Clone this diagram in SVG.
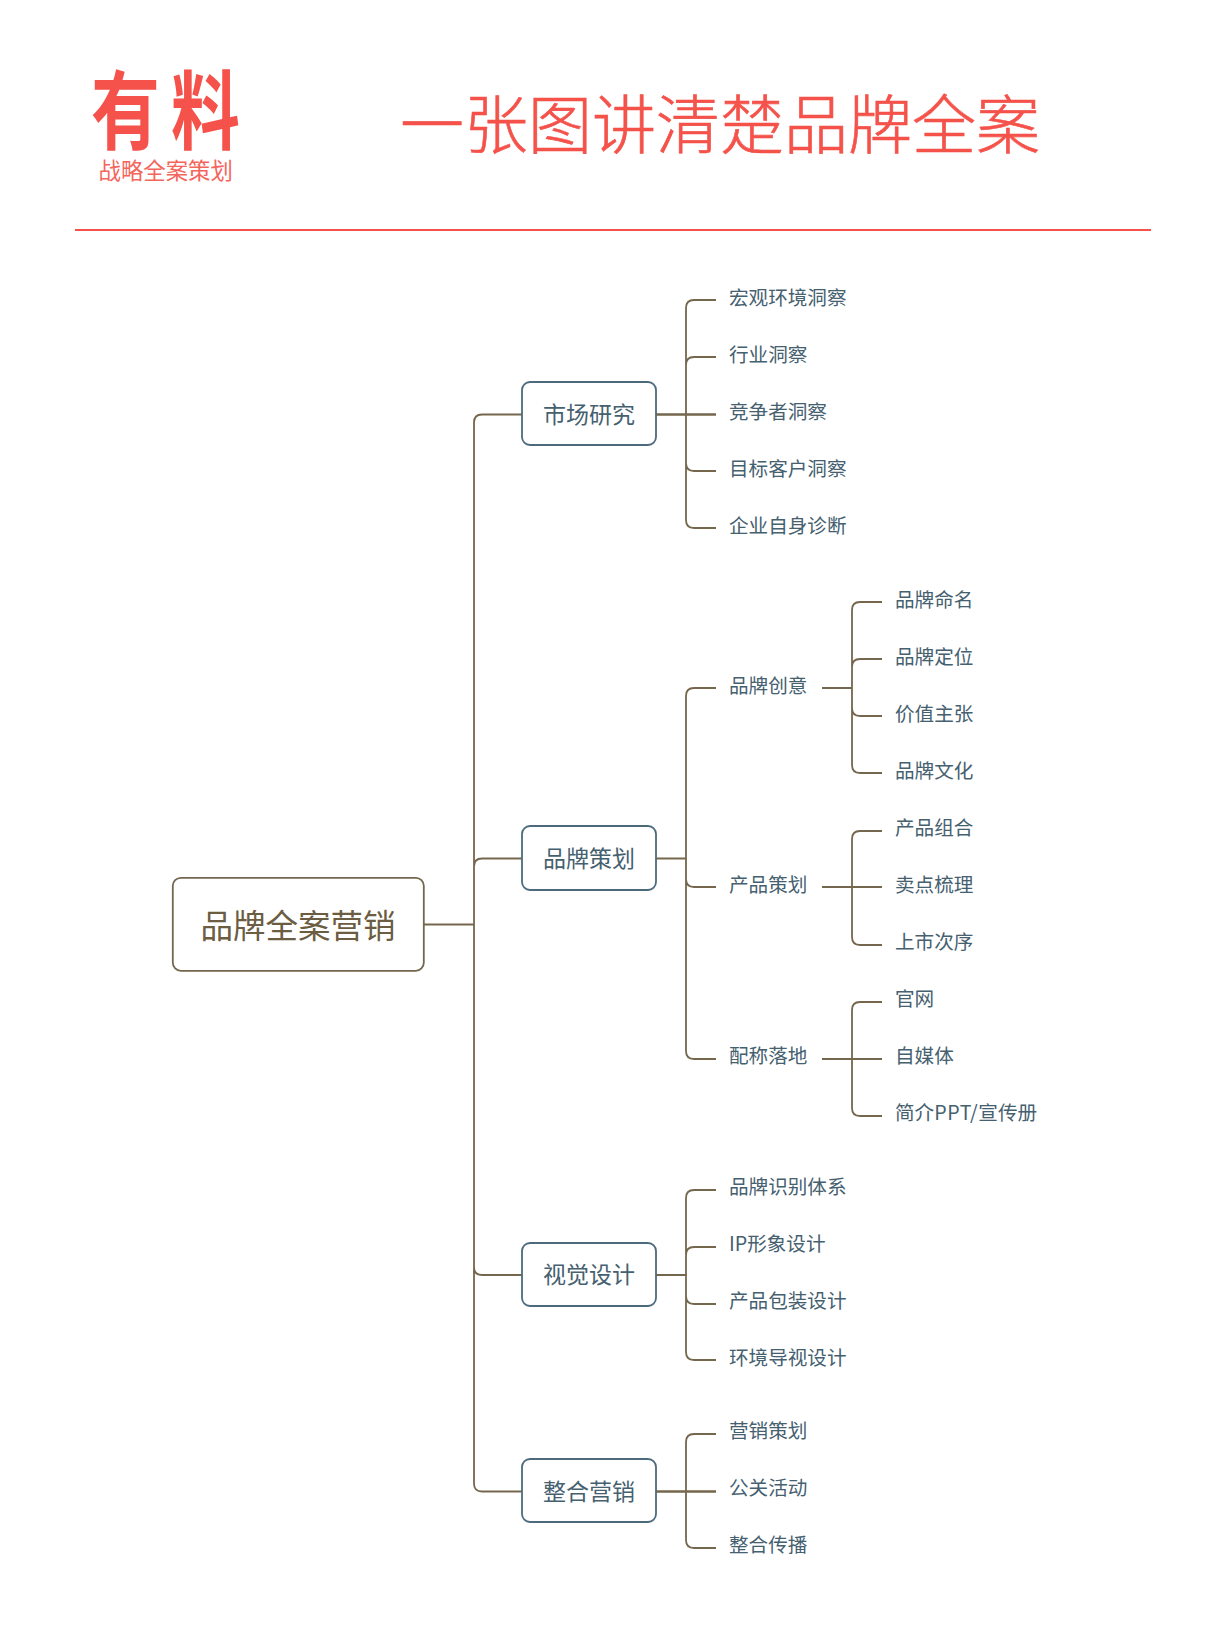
<svg xmlns="http://www.w3.org/2000/svg" width="1224" height="1632" viewBox="0 0 1224 1632">
<style>
text{font-family:"Noto Sans CJK SC","Noto Sans",sans-serif}
.c{fill:none;stroke:#75674d;stroke-width:1.8}
.box{fill:#fff;stroke:#4d6a7c;stroke-width:1.8}
.root{fill:#fff;stroke:#75674d;stroke-width:1.8}
.l0{font-size:32.5px;fill:#6b5c42;text-anchor:middle}
.l1{font-size:23px;fill:#45606f;text-anchor:middle}
.t{font-size:19.6px;fill:#45606f}
.red{fill:#f4524a}
</style>
<rect width="1224" height="1632" fill="#fff"/>
<g id="logo">
<text class="red" font-size="86" font-weight="700" transform="translate(91,143) scale(.8,1)">有</text>
<text class="red" font-size="86" font-weight="700" transform="translate(171,143) scale(.8,1)">料</text>
<text font-size="22.4" fill="#f4655c" x="98.5" y="179">战略全案策划</text>
</g>
<g id="title"><text class="red" font-size="64" font-weight="300" stroke="#f4524a" stroke-width=".6" x="400" y="148">一张图讲清楚品牌全案</text></g>
<line id="divider" x1="75" y1="230" x2="1151" y2="230" stroke="#f4524a" stroke-width="1.8"/>
<g id="connectors">
<path class="c" d="M424 924.500H474M482 414.500Q474 414.500 474 422.500V1483.500Q474 1491.500 482 1491.500H522M482 414.500H522M522 858.500H482Q474 858.500 474 866.500M474 1267Q474 1275 482 1275H522"/>
<path class="c" d="M716 300H694Q686 300 686 308V520Q686 528 694 528H716M716 357H694Q686 357 686 365M686 463Q686 471 694 471H716M656 414.500H716"/>
<path class="c" d="M656 414.500H716"/>
<path class="c" d="M656 858.500H686M716 688H694Q686 688 686 696V1051Q686 1059 694 1059H716M686 879Q686 887 694 887H716"/>
<path class="c" d="M822 688H852M882 602H860Q852 602 852 610V765Q852 773 860 773H882M882 659H860Q852 659 852 667M852 708Q852 716 860 716H882"/>
<path class="c" d="M882 831H860Q852 831 852 839V937Q852 945 860 945H882M822 887H882"/>
<path class="c" d="M822 887H882"/>
<path class="c" d="M882 1002H860Q852 1002 852 1010V1108Q852 1116 860 1116H882M822 1059H882"/>
<path class="c" d="M822 1059H882"/>
<path class="c" d="M656 1275H686M716 1190H694Q686 1190 686 1198V1352Q686 1360 694 1360H716M716 1247H694Q686 1247 686 1255M686 1296Q686 1304 694 1304H716"/>
<path class="c" d="M716 1434H694Q686 1434 686 1442V1540Q686 1548 694 1548H716M656 1491.500H716"/>
<path class="c" d="M656 1491.500H716"/>
</g>
<g id="n-root"><rect class="root" x="172.800" y="877.800" width="251" height="93" rx="8"/><text class="l0" x="298" y="937.500">品牌全案营销</text></g>
<g id="n-market"><rect class="box" x="522" y="382" width="134" height="63" rx="8"/><text class="l1" x="589" y="422.500">市场研究</text></g>
<g id="n-brand"><rect class="box" x="522" y="826" width="134" height="64" rx="8"/><text class="l1" x="589" y="867">品牌策划</text></g>
<g id="n-visual"><rect class="box" x="522" y="1243" width="134" height="63" rx="8"/><text class="l1" x="589" y="1283">视觉设计</text></g>
<g id="n-imc"><rect class="box" x="522" y="1459" width="134" height="63" rx="8"/><text class="l1" x="589" y="1500">整合营销</text></g>
<g id="n-a1"><text class="t" x="729" y="305">宏观环境洞察</text></g>
<g id="n-a2"><text class="t" x="729" y="362">行业洞察</text></g>
<g id="n-a3"><text class="t" x="729" y="419">竞争者洞察</text></g>
<g id="n-a4"><text class="t" x="729" y="476">目标客户洞察</text></g>
<g id="n-a5"><text class="t" x="729" y="533">企业自身诊断</text></g>
<g id="n-b1"><text class="t" x="729" y="693">品牌创意</text></g>
<g id="n-b2"><text class="t" x="729" y="892">产品策划</text></g>
<g id="n-b3"><text class="t" x="729" y="1063">配称落地</text></g>
<g id="n-b11"><text class="t" x="895" y="607">品牌命名</text></g>
<g id="n-b12"><text class="t" x="895" y="664">品牌定位</text></g>
<g id="n-b13"><text class="t" x="895" y="721">价值主张</text></g>
<g id="n-b14"><text class="t" x="895" y="778">品牌文化</text></g>
<g id="n-b21"><text class="t" x="895" y="835">产品组合</text></g>
<g id="n-b22"><text class="t" x="895" y="892">卖点梳理</text></g>
<g id="n-b23"><text class="t" x="895" y="949">上市次序</text></g>
<g id="n-b31"><text class="t" x="895" y="1006">官网</text></g>
<g id="n-b32"><text class="t" x="895" y="1063">自媒体</text></g>
<g id="n-b33"><text class="t" x="895" y="1120">简介<tspan letter-spacing=".6">PPT/</tspan>宣传册</text></g>
<g id="n-c1"><text class="t" x="729" y="1194">品牌识别体系</text></g>
<g id="n-c2"><text class="t" x="729" y="1251">IP形象设计</text></g>
<g id="n-c3"><text class="t" x="729" y="1308">产品包装设计</text></g>
<g id="n-c4"><text class="t" x="729" y="1365">环境导视设计</text></g>
<g id="n-d1"><text class="t" x="729" y="1438">营销策划</text></g>
<g id="n-d2"><text class="t" x="729" y="1495">公关活动</text></g>
<g id="n-d3"><text class="t" x="729" y="1552">整合传播</text></g>
</svg>
